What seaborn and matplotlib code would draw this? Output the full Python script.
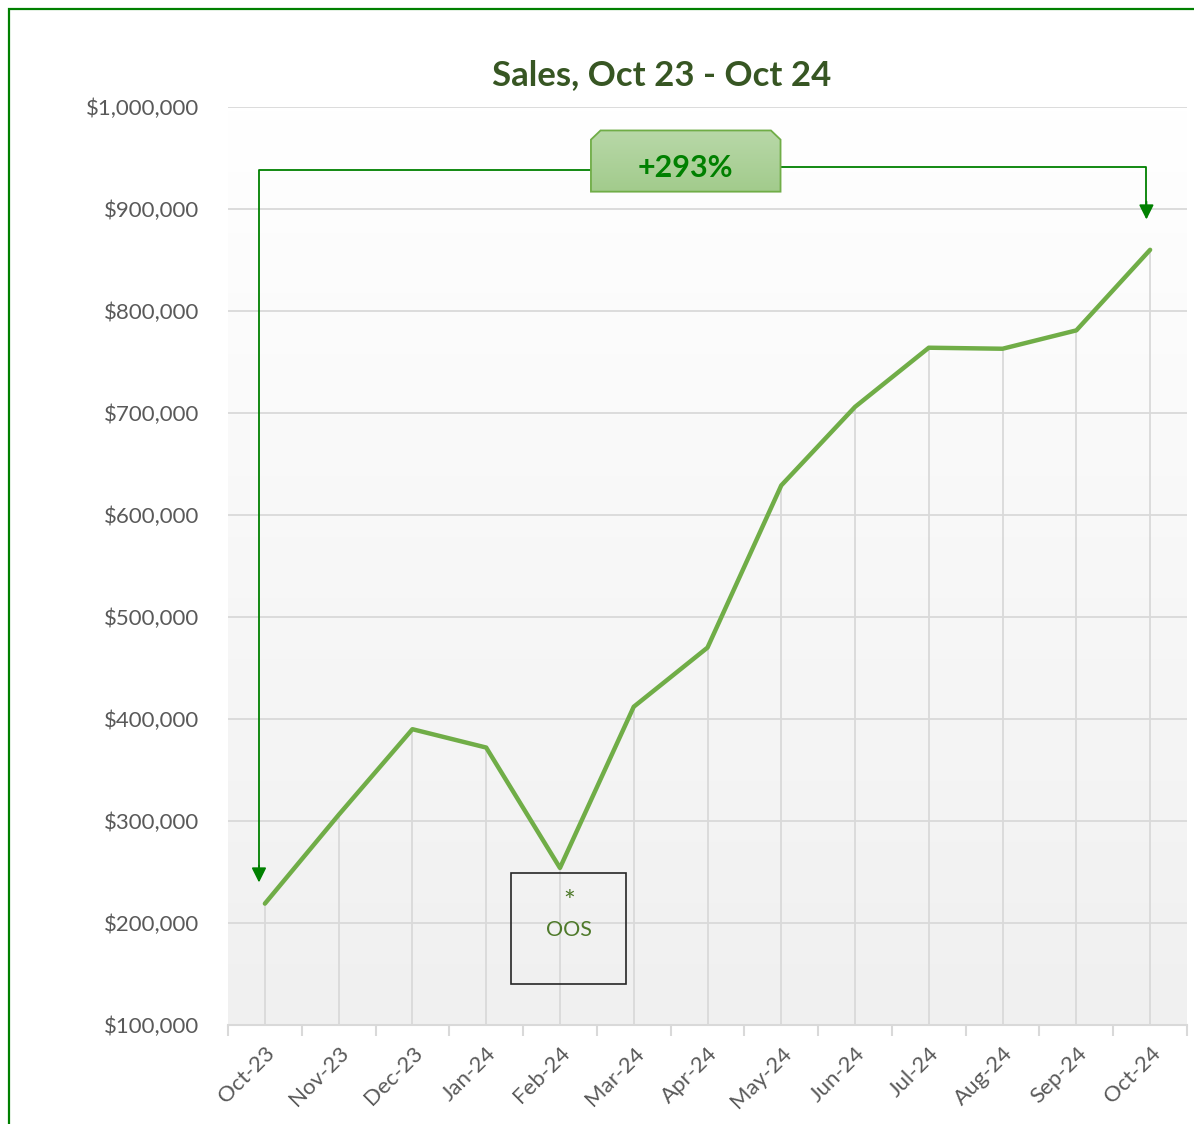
import numpy as np
import pandas as pd
import matplotlib
matplotlib.use("Agg")
import matplotlib.pyplot as plt
import seaborn as sns
from matplotlib.patches import Rectangle, Polygon
from matplotlib.ticker import FuncFormatter, FixedLocator

months = ["Oct-23", "Nov-23", "Dec-23", "Jan-24", "Feb-24", "Mar-24", "Apr-24",
          "May-24", "Jun-24", "Jul-24", "Aug-24", "Sep-24", "Oct-24"]
sales = [219000, 306000, 390000, 372000, 254000, 412000, 470000,
         629000, 706000, 764000, 763000, 781000, 860000]
title = "Sales, Oct 23 - Oct 24"
oos_month = "Feb-24"
oos_star = "*"
oos_text = "OOS"

df = pd.DataFrame({"Month": months, "Sales": sales})
growth = sales[-1] / sales[0] - 1
growth_label = f"+{growth*100:.0f}%"

sns.set_theme(style="white")
plt.rcParams["font.family"] = ["Lato", "DejaVu Sans"]

fig = plt.figure(figsize=(11.94, 11.24), dpi=100)
ax = fig.add_axes([228/1194, 1 - 1025/1124, (1187-228)/1194, (1025-107)/1124])

ymin, ymax = 100000, 1000000
n = len(months)
ax.set_xlim(-0.5, n - 0.5)
ax.set_ylim(ymin, ymax)

# gradient background
grad = np.linspace(1.0, 0.0, 256).reshape(-1, 1)
top_c = np.array([1.0, 1.0, 1.0])
bot_c = np.array([0xf0, 0xf0, 0xf0]) / 255
img = grad[..., None] * top_c + (1 - grad[..., None]) * bot_c
ax.imshow(img, extent=[-0.5, n - 0.5, ymin, ymax], aspect="auto", zorder=0)

# horizontal gridlines
for yv in range(200000, 1000001, 100000):
    ax.axhline(yv, color="#d9d9d9", lw=1.3, zorder=1)

# drop lines
ax.vlines(range(n), ymin, sales, color="#d9d9d9", lw=1.3, zorder=1)

sns.lineplot(data=df, x="Month", y="Sales", ax=ax, color="#70ad47", lw=3.2,
             zorder=5, sort=False)
ax.set_xlim(-0.5, n - 0.5)
ax.set_ylim(ymin, ymax)

ax.set_xlabel("")
ax.set_ylabel("")
for s in ["top", "right", "left"]:
    ax.spines[s].set_visible(False)
ax.spines["bottom"].set_color("#d9d9d9")
ax.spines["bottom"].set_linewidth(1.5)
ax.spines["bottom"].set_zorder(6)

ax.set_yticks(range(100000, 1000001, 100000))
ax.yaxis.set_major_formatter(FuncFormatter(lambda v, p: f"${v:,.0f}"))
ax.tick_params(axis="y", length=0, pad=21, labelsize=16, labelcolor="#595959")
ax.set_xticks(range(n))
ax.set_xticklabels(months, rotation=45, ha="right", rotation_mode="anchor")
ax.tick_params(axis="x", which="major", length=0, pad=13, labelsize=16, labelcolor="#595959")
ax.xaxis.set_minor_locator(FixedLocator(np.arange(-0.5, n, 1.0)))
ax.tick_params(axis="x", which="minor", length=8, width=1.5, color="#d9d9d9", bottom=True)
ax.grid(False)

# title
fig.text(662/1194, 1 - 75/1124, title, ha="center", va="center",
         fontsize=25, fontweight="bold", color="#375623")

# growth box and arrows
gc = "#008000"
x0, x1 = 0, n - 1
left_x = x0 - 0.08
right_x = x1 - 0.05
y_line = 938000
bx0, bx1 = 4.42, 6.99
by0, by1 = 917000, 977000
ax.plot([bx0, left_x, left_x], [y_line, y_line, sales[0] + 30000], color=gc, lw=1.3, zorder=7)
ax.plot([bx1, right_x, right_x], [y_line + 3000, y_line + 3000, sales[-1] + 40000], color=gc, lw=1.3, zorder=7)
ax.annotate("", xy=(left_x, sales[0] + 18000), xytext=(left_x, sales[0] + 40000),
            arrowprops=dict(arrowstyle="-|>", color=gc, lw=1.3, mutation_scale=22), zorder=7)
ax.annotate("", xy=(right_x, sales[-1] + 27000), xytext=(right_x, sales[-1] + 50000),
            arrowprops=dict(arrowstyle="-|>", color=gc, lw=1.3, mutation_scale=22), zorder=7)

cx = 0.13
cy = 9000
poly_pts = [(bx0, by0), (bx0, by1 - cy), (bx0 + cx, by1), (bx1 - cx, by1),
            (bx1, by1 - cy), (bx1, by0)]
poly = Polygon(poly_pts, closed=True, facecolor="none", edgecolor="#70ad47", lw=1.3, zorder=9)
ax.add_patch(poly)
g2 = np.linspace(0, 1, 64).reshape(-1, 1)
c_top = np.array([0xb8, 0xd8, 0xa8]) / 255
c_bot = np.array([0xa2, 0xcb, 0x8c]) / 255
gimg = (1 - g2[..., None]) * c_top + g2[..., None] * c_bot
im = ax.imshow(gimg, extent=[bx0, bx1, by0, by1], aspect="auto", zorder=8)
im.set_clip_path(poly)
ax.text((bx0 + bx1) / 2, 940000, growth_label, ha="center", va="center",
        fontsize=22, fontweight="bold", color=gc, zorder=10)

# OOS box
oi = months.index(oos_month)
ax.add_patch(Rectangle((oi - 0.66, 140000), 1.55, 109000, facecolor="none",
                       edgecolor="#262626", lw=1.2, zorder=7))
ax.text(oi + 0.12, 220000, oos_star, ha="center", va="center", fontsize=20,
        color="#4f7a2b", zorder=8)
ax.text(oi + 0.12, 193000, oos_text, ha="center", va="center", fontsize=15.5,
        color="#4f7a2b", zorder=8)

# outer green border
fig.add_artist(Rectangle((9/1194, -0.01), 1.1, 1 - 9/1124 + 0.01, transform=fig.transFigure,
                         facecolor="none", edgecolor="#008000", lw=1.6))

fig.savefig("out.png", dpi=100)
